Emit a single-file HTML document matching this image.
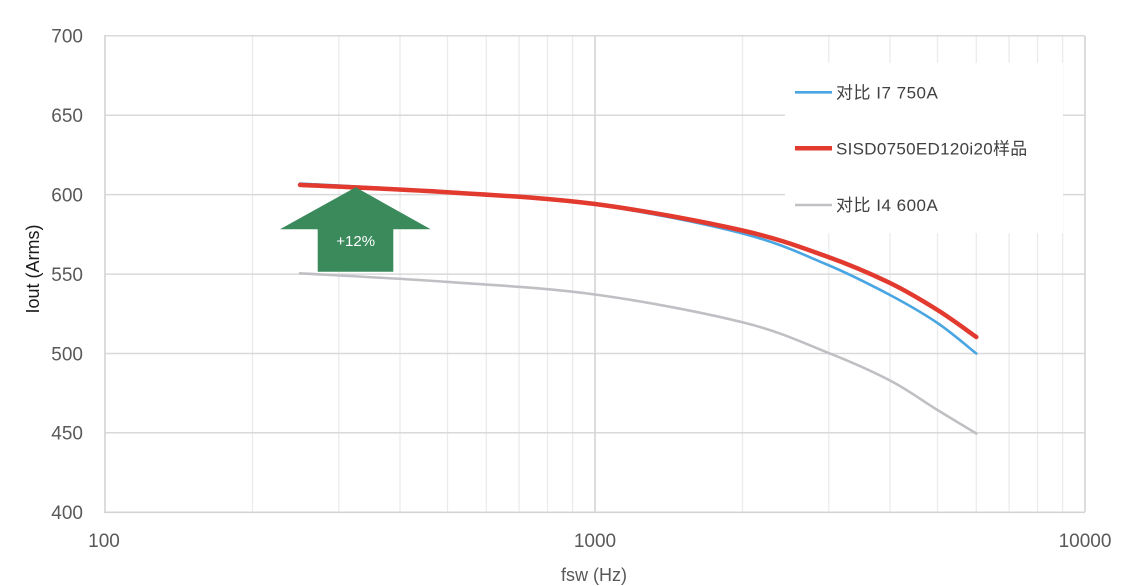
<!DOCTYPE html>
<html><head><meta charset="utf-8"><style>
html,body{margin:0;padding:0;background:#fff;}
svg{display:block;}
text{font-family:"Liberation Sans","Noto Sans CJK SC",sans-serif;}
</style></head><body>
<svg width="1134" height="586" viewBox="0 0 1134 586" xmlns="http://www.w3.org/2000/svg">
<rect width="1134" height="586" fill="#fff"/>
<!-- minor vertical gridlines -->
<g stroke="#ebebeb" stroke-width="1.3">
<line x1="252.5" y1="36" x2="252.5" y2="512"/><line x1="338.8" y1="36" x2="338.8" y2="512"/>
<line x1="400" y1="36" x2="400" y2="512"/><line x1="447.5" y1="36" x2="447.5" y2="512"/>
<line x1="486.3" y1="36" x2="486.3" y2="512"/><line x1="519.1" y1="36" x2="519.1" y2="512"/>
<line x1="547.5" y1="36" x2="547.5" y2="512"/><line x1="572.6" y1="36" x2="572.6" y2="512"/>
<line x1="742.5" y1="36" x2="742.5" y2="512"/><line x1="828.8" y1="36" x2="828.8" y2="512"/>
<line x1="890" y1="36" x2="890" y2="512"/><line x1="937.5" y1="36" x2="937.5" y2="512"/>
<line x1="976.3" y1="36" x2="976.3" y2="512"/><line x1="1009.1" y1="36" x2="1009.1" y2="512"/>
<line x1="1037.5" y1="36" x2="1037.5" y2="512"/><line x1="1062.6" y1="36" x2="1062.6" y2="512"/>
</g>
<!-- major horizontal gridlines -->
<g stroke="#d9d9d9" stroke-width="1.5">
<line x1="105" y1="35.7" x2="1085" y2="35.7"/>
<line x1="105" y1="115.2" x2="1085" y2="115.2"/>
<line x1="105" y1="194.6" x2="1085" y2="194.6"/>
<line x1="105" y1="274.1" x2="1085" y2="274.1"/>
<line x1="105" y1="353.5" x2="1085" y2="353.5"/>
<line x1="105" y1="432.8" x2="1085" y2="432.8"/>
</g>
<g stroke="#d4d4d4" stroke-width="1.6">
<line x1="595" y1="36" x2="595" y2="512"/>
<line x1="1085" y1="36" x2="1085" y2="512"/>
<line x1="105" y1="35" x2="105" y2="513"/>
<line x1="104" y1="512.3" x2="1085" y2="512.3"/>
</g>
<!-- legend background -->
<rect x="785" y="63" width="278" height="170" fill="#fff"/>
<!-- series -->
<path fill="none" stroke="#c0c0c4" stroke-width="2.6" stroke-linecap="round"
 d="M300,273.3 C324.6,274.7 398.3,278.4 447.5,281.9 C496.7,285.4 545.8,287.8 595,294.5 C644.2,301.2 703.9,312.7 742.5,322.3 C781.2,331.9 802.3,342.6 826.9,352.3 C851.5,362 871.6,370.9 890,380.5 C908.4,390.1 923.1,401.2 937.5,410 C951.9,418.8 969.8,429.6 976.3,433.5"/>
<path fill="none" stroke="#4aa6e2" stroke-width="2.6" stroke-linecap="round"
 d="M300,183.5 C324.6,184.9 398.3,188.5 447.5,192 C496.7,195.5 545.8,197.7 595,204.6 C644.2,211.5 703.9,223.5 742.5,233.5 C781.2,243.5 802.3,254.3 826.9,264.5 C851.5,274.8 871.6,285.3 890,295 C908.4,304.8 923.1,313.3 937.5,323 C951.9,332.8 969.8,348.4 976.3,353.5"/>
<path fill="none" stroke="#e23a2e" stroke-width="4.5" stroke-linecap="round"
 d="M300,184.9 C324.6,186.1 398.3,189 447.5,192.2 C496.7,195.4 545.8,197.6 595,204 C644.2,210.4 703.9,221.8 742.5,230.5 C781.2,239.3 802.3,247.8 826.9,256.5 C851.5,265.3 871.6,274.1 890,283 C908.4,291.9 923.1,301 937.5,310 C951.9,319 969.8,332.5 976.3,337"/>
<!-- arrow -->
<polygon points="355.7,187.3 430.7,229.3 393.3,229.3 393.3,271.7 317.7,271.7 317.7,229.3 280,229.3" fill="#3a8a5b"/>
<text x="355.7" y="246" font-size="15" fill="#fff" text-anchor="middle">+12%</text>
<!-- legend -->
<line x1="795" y1="92.3" x2="832" y2="92.3" stroke="#4aa6e2" stroke-width="2.6"/>
<text x="836" y="98.5" font-size="17" fill="#404040" letter-spacing="0.5">对比 I7 750A</text>
<line x1="795" y1="148.3" x2="832" y2="148.3" stroke="#e23a2e" stroke-width="4.5"/>
<text x="836" y="154.5" font-size="17" fill="#404040" letter-spacing="0.3">SISD0750ED120i20样品</text>
<line x1="795" y1="205" x2="832" y2="205" stroke="#c0c0c4" stroke-width="2.6"/>
<text x="836" y="211.2" font-size="17" fill="#404040" letter-spacing="0.5">对比 I4 600A</text>
<!-- y tick labels -->
<g font-size="19" fill="#595959" text-anchor="end">
<text x="83" y="42.5">700</text>
<text x="83" y="122">650</text>
<text x="83" y="201.4">600</text>
<text x="83" y="280.9">550</text>
<text x="83" y="360.3">500</text>
<text x="83" y="439.6">450</text>
<text x="83" y="519">400</text>
</g>
<!-- x tick labels -->
<g font-size="19" fill="#595959" text-anchor="middle">
<text x="104" y="547">100</text>
<text x="595" y="547">1000</text>
<text x="1085" y="547">10000</text>
</g>
<text x="594" y="581" font-size="18" fill="#595959" text-anchor="middle">fsw (Hz)</text>
<text transform="translate(39,269) rotate(-90)" font-size="18" fill="#1a1a1a" text-anchor="middle">Iout (Arms)</text>
</svg>
</body></html>
